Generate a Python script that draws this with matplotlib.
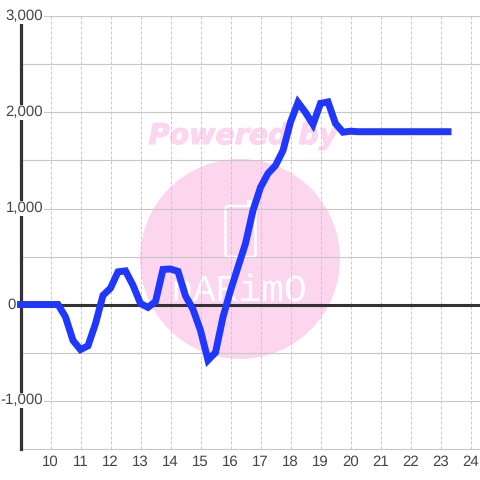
import matplotlib
matplotlib.use('Agg')
import matplotlib.pyplot as plt
import matplotlib.patheffects as pe
from matplotlib.patches import Circle, FancyBboxPatch, Rectangle
from matplotlib.transforms import Affine2D

hours = [9, 9.25, 9.5, 9.75, 10, 10.25, 10.5, 10.75, 11, 11.25, 11.5, 11.75,
         12, 12.25, 12.5, 12.75, 13, 13.25, 13.5, 13.75, 14, 14.25, 14.5, 14.75,
         15, 15.25, 15.5, 15.75, 16, 16.25, 16.5, 16.75, 17, 17.25, 17.5, 17.75,
         18, 18.25, 18.5, 18.75, 19, 19.25, 19.5, 19.75, 20, 20.25, 20.5, 20.75,
         21, 21.25, 21.5, 21.75, 22, 22.25, 22.5, 22.75, 23, 23.25]
values = [0, 0, 0, 0, 0, 0, -130, -375, -470, -430, -200, 95,
          170, 340, 350, 200, 10, -30, 30, 365, 370, 345, 90, -50,
          -270, -580, -500, -130, 145, 390, 635, 980, 1220, 1365, 1448, 1604,
          1900, 2105, 2000, 1875, 2095, 2110, 1885, 1795, 1805, 1800, 1800, 1800,
          1800, 1800, 1800, 1800, 1800, 1800, 1800, 1800, 1800, 1800]

x_ticks = list(range(10, 25))
y_labelled = [3000, 2000, 1000, 0, -1000]
y_plain = [2500, 1500, 500, -500]

plt.rcParams['font.family'] = ['Liberation Sans', 'DejaVu Sans']
plt.rcParams['text.hinting'] = 'no_hinting'
plt.rcParams['text.hinting_factor'] = 1

fig = plt.figure(figsize=(4.8, 4.8), dpi=100)
# axes box in pixels: left 20.5, right 480, top 16.5, bottom 448.5
ax = fig.add_axes([20.5 / 480, 31.5 / 480, 459.5 / 480, 432 / 480])
ax.set_xlim(9, 9 + 459.5 / 30)
ax.set_ylim(-1500, 3000)

# watermark, placed in pixels (y from top)
px = Affine2D().scale(1, -1).translate(0, 480)
pink = '#fcd5ee'
ax.add_patch(Circle((240, 259), 100, transform=px, fc=pink, ec='none', zorder=1, clip_on=False))
ax.add_patch(FancyBboxPatch((225.5, 206), 30, 51, boxstyle='round,pad=0,rounding_size=3', transform=px,
                            fc='none', ec='white', lw=1.8, zorder=1.1))
ax.add_patch(Rectangle((247, 200), 5, 6, transform=px, fc='white', ec='none', zorder=1.1))
ax.text(239, 291, 'nARimO', transform=px, color='white', fontsize=27, family='Liberation Mono',
        ha='center', va='center', zorder=1.1)
ax.text(241.5, 144, 'Powered by', transform=px, color=pink, fontsize=20.5, weight='bold', style='italic',
        family='DejaVu Sans', ha='center', va='baseline', zorder=1.1,
        path_effects=[pe.withStroke(linewidth=0.8, foreground=pink)])

for x in x_ticks:
    ax.axvline(x, color='#c8c8c8', lw=0.72, ls=(0, (3, 2)), zorder=2)
for y in y_labelled + y_plain:
    ax.axhline(y, color='#c8c8c8', lw=0.85, zorder=2)
ax.axhline(-1500, color='#c8c8c8', lw=0.85, zorder=2, clip_on=False)

ax.axhline(0, color='#333333', lw=2.2, zorder=3)
ax.axvline(9, color='#333333', lw=2.3, zorder=3, clip_on=False)
ax.plot(hours, values, color='#1f37ff', lw=5, solid_joinstyle='miter', solid_capstyle='projecting',
        zorder=4, clip_on=False)

for s in ax.spines.values():
    s.set_visible(False)

ax.set_xticks(x_ticks)
ax.set_yticks([])
ax.tick_params(axis='x', length=0, pad=5, labelsize=11, labelcolor='#444444')

for y in y_labelled:
    # the 0 label sits left of the axis, the others run over it
    right = 16 if y == 0 else 43
    ypx = 304.5 - y * 0.096
    ax.text(right, ypx, f'{y:,}', transform=px, ha='right', va='center', fontsize=10.8, color='#444444',
            zorder=5, clip_on=False, bbox=dict(fc='white', ec='none', pad=0.4))

fig.savefig('out.png', dpi=100)
